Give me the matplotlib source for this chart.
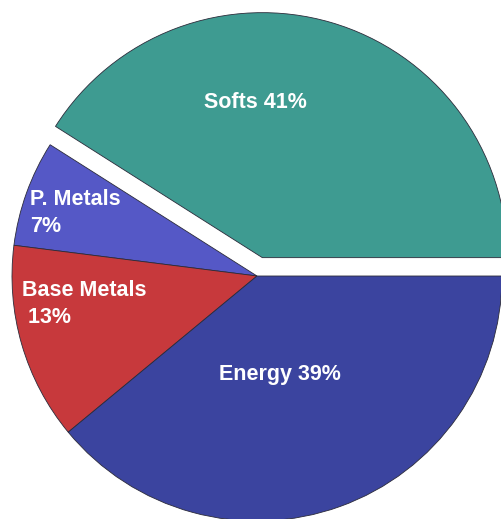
import matplotlib.pyplot as plt

# commodity weights, counter-clockwise from 3 o'clock
categories = ["Softs", "P. Metals", "Base Metals", "Energy"]
shares = [41, 7, 13, 39]
colors = ["#3e9b91", "#5558c6", "#c7393c", "#3b449f"]
explode = [0.078, 0, 0, 0]

plt.rcParams['font.family'] = ['Liberation Sans', 'DejaVu Sans']

fig = plt.figure(figsize=(5.02, 5.19), dpi=100)
ax = fig.add_axes([0, 0, 1, 1])

ax.pie(shares, colors=colors, explode=explode, startangle=0,
       counterclock=True, radius=1.0,
       wedgeprops=dict(edgecolor='#2b2b3a', linewidth=0.6))

# label text, placed by hand like the original
lbl = dict(color='white', fontsize=15.5, fontweight='bold')
ax.text(-0.008, 0.71, f"{categories[0]} {shares[0]}%", ha='center', va='center', **lbl)
ax.text(-0.927, 0.257, f"{categories[1]}\n{shares[1]}%", ha='left', va='center',
        linespacing=1.4, **lbl)
ax.text(-0.959, -0.114, f"{categories[2]}\n {shares[2]}%", ha='left', va='center',
        linespacing=1.4, **lbl)
ax.text(0.094, -0.404, f"{categories[3]} {shares[3]}%", ha='center', va='center', **lbl)

# pie centre sits at pixel (257, 276), radius 245 px, edges clipped
ax.set_xlim(-257 / 245, (502 - 257) / 245)
ax.set_ylim(-(519 - 276) / 245, 276 / 245)
ax.set_aspect('auto')
ax.axis('off')

fig.savefig('out.png', dpi=100, facecolor='white')
